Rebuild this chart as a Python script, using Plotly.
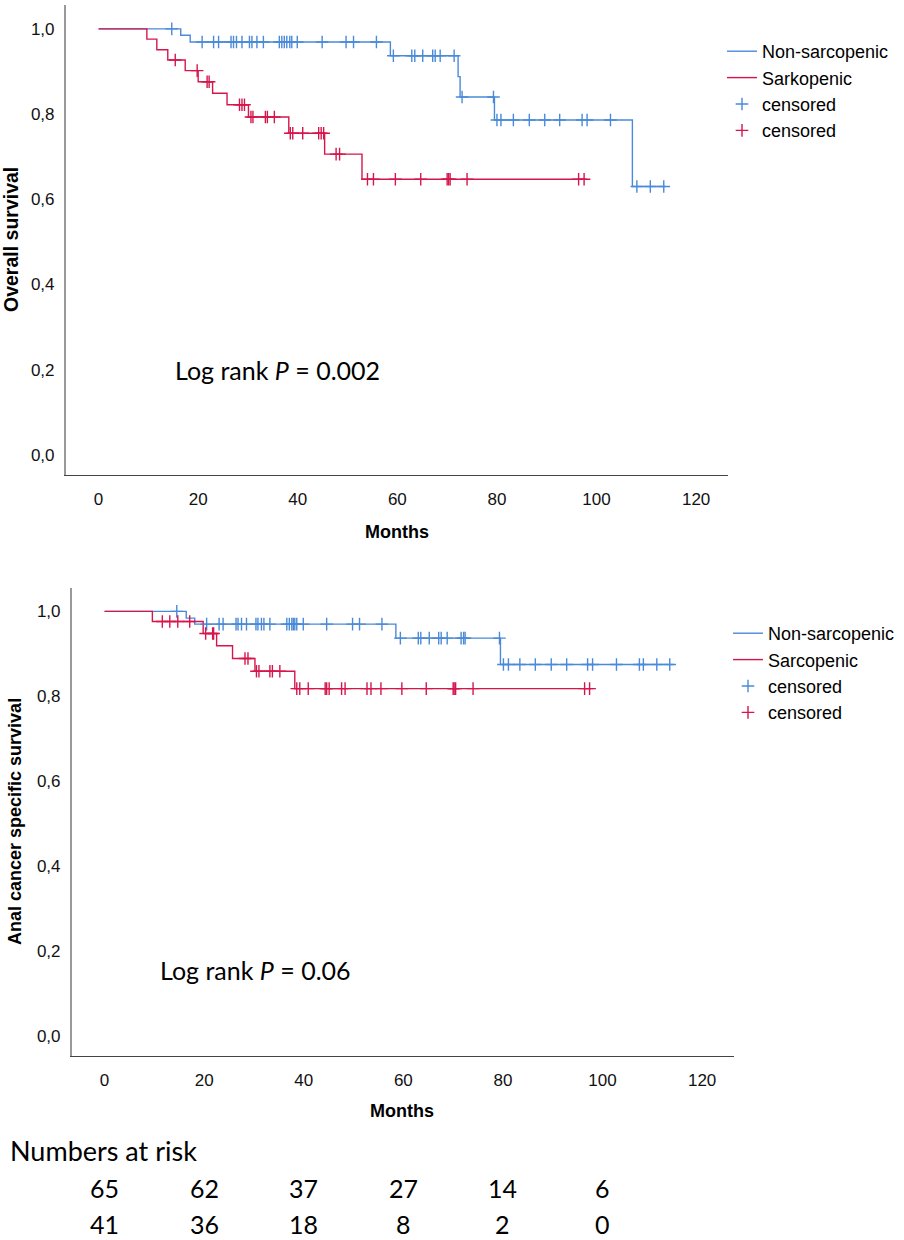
import numpy as np
import plotly.graph_objects as go

# ---------------- data ----------------
months_ticks = [0, 20, 40, 60, 80, 100, 120]
surv_ticks = [0.0, 0.2, 0.4, 0.6, 0.8, 1.0]

# Top panel: overall survival
os_nonsarc_event_t = [16.5, 18.4, 58.6, 72.2, 72.6, 79.5, 107.2]
os_nonsarc_event_s = [0.985, 0.969, 0.937, 0.888, 0.840, 0.786, 0.630]
os_nonsarc_end = 113.8
os_nonsarc_censored = [14.7, 20.8, 23.1, 24.1, 26.6, 27.1, 27.7, 28.8, 30.3, 30.8, 31.8, 33.1,
                       36.3, 36.8, 37.3, 37.8, 38.4, 38.8, 39.9, 44.9, 49.7, 51.2, 55.8, 59.2,
                       62.9, 63.5, 65.1, 67.1, 67.6, 68.6, 71.4, 73.0, 79.3, 80.0, 80.8, 83.3,
                       86.5, 89.6, 92.6, 97.1, 98.1, 102.8, 108.1, 110.8, 113.5]

os_sarc_event_t = [9.7, 11.7, 13.9, 17.4, 20.0, 22.9, 25.8, 30.1, 38.2, 45.4, 52.9]
os_sarc_event_s = [0.976, 0.951, 0.927, 0.902, 0.876, 0.849, 0.822, 0.793, 0.755, 0.706, 0.647]
os_sarc_end = 98.1
os_sarc_censored = [15.4, 19.8, 21.8, 22.2, 28.3, 28.8, 29.3, 30.6, 31.0, 33.5, 33.9, 35.3,
                    38.5, 39.0, 41.0, 44.2, 44.7, 45.2, 47.7, 48.4, 54.0, 55.2, 59.6, 64.7,
                    70.0, 70.3, 70.6, 74.0, 96.4, 97.5]

# Bottom panel: anal cancer specific survival
css_nonsarc_event_t = [16.4, 18.1, 58.5, 79.5]
css_nonsarc_event_s = [0.984, 0.970, 0.937, 0.875]
css_nonsarc_end = 114.2
css_nonsarc_censored = [14.5, 20.5, 23.0, 23.8, 26.4, 26.8, 27.5, 28.5, 30.4, 30.8, 31.5, 32.0,
                        33.2, 36.6, 37.1, 37.6, 37.9, 38.2, 38.6, 39.9, 44.6, 49.8, 51.2, 55.7,
                        59.4, 63.0, 63.5, 65.2, 67.1, 67.6, 68.8, 71.6, 72.1, 72.4, 79.3, 80.1,
                        81.1, 83.4, 86.5, 89.7, 92.8, 97.0, 98.0, 102.8, 107.4, 108.2, 110.9, 113.5]

css_sarc_event_t = [9.6, 19.8, 22.5, 25.7, 30.2, 38.2]
css_sarc_event_s = [0.976, 0.948, 0.919, 0.889, 0.859, 0.818]
css_sarc_end = 98.2
css_sarc_censored = [11.6, 13.1, 14.7, 17.1, 20.3, 21.7, 21.9, 28.2, 28.8, 30.5, 31.0, 33.2,
                     33.7, 35.2, 38.6, 39.2, 40.9, 44.3, 44.6, 45.1, 47.6, 48.3, 52.7, 53.5,
                     55.5, 59.7, 64.6, 70.0, 70.2, 70.5, 74.0, 96.4, 97.4]

risk_times = [0, 20, 40, 60, 80, 100]
risk_nonsarc = [65, 62, 37, 27, 14, 6]
risk_sarc = [41, 36, 18, 8, 2, 0]

BLUE = "#4a8ad8"
RED = "#d5164c"
TICK_FONT = dict(family="Liberation Sans, Arial", size=17, color="#111")
CAL = "Lato, Carlito, Calibri, sans-serif"

W, H = 904, 1240


def px_x(p):
    return p / W


def px_y(p):
    return min(1.0, 1 - p / H)


def step_xy(event_t, event_s, end):
    x = [0.0] + list(event_t) + [end]
    y = [1.0] + list(event_s) + [event_s[-1]]
    return x, y


def surv_at(event_t, event_s, times):
    et = np.array(event_t)
    es = np.concatenate([[1.0], np.array(event_s)])
    idx = np.searchsorted(et, np.array(times), side="right")
    return es[idx]


fig = go.Figure()


def add_curve(xa, ya, legend, et, es, end, color, name):
    x, y = step_xy(et, es, end)
    fig.add_trace(go.Scatter(x=x, y=y, mode="lines", line=dict(color=color, width=1.4, shape="hv"),
                             name=name, xaxis=xa, yaxis=ya, legend=legend))


def add_cens(xa, ya, legend, et, es, cens, color):
    fig.add_trace(go.Scatter(x=cens, y=surv_at(et, es, cens), mode="markers",
                             marker=dict(symbol="cross-thin-open", size=9, color=color,
                                         line=dict(color=color, width=1.4)),
                             name="censored", xaxis=xa, yaxis=ya, legend=legend))


add_curve("x", "y", "legend", os_nonsarc_event_t, os_nonsarc_event_s, os_nonsarc_end, BLUE, "Non-sarcopenic")
add_curve("x", "y", "legend", os_sarc_event_t, os_sarc_event_s, os_sarc_end, RED, "Sarkopenic")
add_cens("x", "y", "legend", os_nonsarc_event_t, os_nonsarc_event_s, os_nonsarc_censored, BLUE)
add_cens("x", "y", "legend", os_sarc_event_t, os_sarc_event_s, os_sarc_censored, RED)

add_curve("x2", "y2", "legend2", css_nonsarc_event_t, css_nonsarc_event_s, css_nonsarc_end, BLUE, "Non-sarcopenic")
add_curve("x2", "y2", "legend2", css_sarc_event_t, css_sarc_event_s, css_sarc_end, RED, "Sarcopenic")
add_cens("x2", "y2", "legend2", css_nonsarc_event_t, css_nonsarc_event_s, css_nonsarc_censored, BLUE)
add_cens("x2", "y2", "legend2", css_sarc_event_t, css_sarc_event_s, css_sarc_censored, RED)

xcommon = dict(range=[-6.6, 126.4], tickvals=months_ticks, ticks="", showgrid=False, zeroline=False,
               showline=True, linecolor="#444", linewidth=1.3, tickfont=TICK_FONT,
               ticklabelstandoff=8)
ycommon = dict(tickvals=surv_ticks, tickformat=".1f", ticks="", showgrid=False,
               zeroline=False, showline=True, linecolor="#999", linewidth=1.5, tickfont=TICK_FONT,
               ticklabelstandoff=6)
LEG_FONT = dict(family="Liberation Sans, Arial", size=18, color="#000")

fig.update_layout(
    width=W, height=H, margin=dict(l=0, r=0, t=0, b=0),
    paper_bgcolor="white", plot_bgcolor="white",
    separators=",.",
    xaxis=dict(domain=[px_x(65.7), px_x(728)], anchor="y", **xcommon),
    yaxis=dict(domain=[px_y(475), px_y(5)], anchor="x", range=[-0.047, 1.056], **ycommon),
    xaxis2=dict(domain=[px_x(71.7), px_x(734)], anchor="y2", **xcommon),
    yaxis2=dict(domain=[px_y(1056), px_y(588)], anchor="x2", range=[-0.047, 1.055], **ycommon),
    legend=dict(x=px_x(722), y=px_y(33), xanchor="left", yanchor="top", bgcolor="rgba(0,0,0,0)",
                font=LEG_FONT, tracegroupgap=0, itemwidth=30),
    legend2=dict(x=px_x(728), y=px_y(615), xanchor="left", yanchor="top", bgcolor="rgba(0,0,0,0)",
                 font=LEG_FONT, tracegroupgap=0, itemwidth=30),
    showlegend=True,
)

ann = [
    dict(text="<b>Overall survival</b>", x=px_x(11), y=px_y(240), xref="paper", yref="paper",
         textangle=-90, showarrow=False, font=dict(family="Liberation Sans, Arial", size=19.5, color="#000"),
         xanchor="center", yanchor="middle"),
    dict(text="<b>Months</b>", x=px_x(397), y=px_y(532), xref="paper", yref="paper",
         showarrow=False, font=dict(family="Liberation Sans, Arial", size=18, color="#000"),
         xanchor="center", yanchor="middle"),
    dict(text="<b>Anal cancer specific survival</b>", x=px_x(15), y=px_y(822), xref="paper", yref="paper",
         textangle=-90, showarrow=False, font=dict(family="Liberation Sans, Arial", size=18, color="#000"),
         xanchor="center", yanchor="middle"),
    dict(text="<b>Months</b>", x=px_x(402), y=px_y(1111), xref="paper", yref="paper",
         showarrow=False, font=dict(family="Liberation Sans, Arial", size=18, color="#000"),
         xanchor="center", yanchor="middle"),
    dict(text="Log rank <i>P</i> = 0.002", x=px_x(173), y=px_y(370), xref="paper", yref="paper",
         showarrow=False, font=dict(family=CAL, size=25, color="#000"), xanchor="left", yanchor="middle"),
    dict(text="Log rank <i>P</i> = 0.06", x=px_x(158), y=px_y(970), xref="paper", yref="paper",
         showarrow=False, font=dict(family=CAL, size=25, color="#000"), xanchor="left", yanchor="middle"),
    dict(text="Numbers at risk", x=px_x(8), y=px_y(1150), xref="paper", yref="paper",
         showarrow=False, font=dict(family=CAL, size=27, color="#000"), xanchor="left", yanchor="middle"),
]
for t, n1, n2 in zip(risk_times, risk_nonsarc, risk_sarc):
    ann.append(dict(text=str(n1), x=t, y=px_y(1188), xref="x2", yref="paper", showarrow=False,
                    font=dict(family=CAL, size=25, color="#000"), xanchor="center", yanchor="middle"))
    ann.append(dict(text=str(n2), x=t, y=px_y(1224), xref="x2", yref="paper", showarrow=False,
                    font=dict(family=CAL, size=25, color="#000"), xanchor="center", yanchor="middle"))

fig.update_layout(annotations=ann)
fig.write_html("out.html", config={"displayModeBar": False},
               post_script="document.body.style.margin='0';")
